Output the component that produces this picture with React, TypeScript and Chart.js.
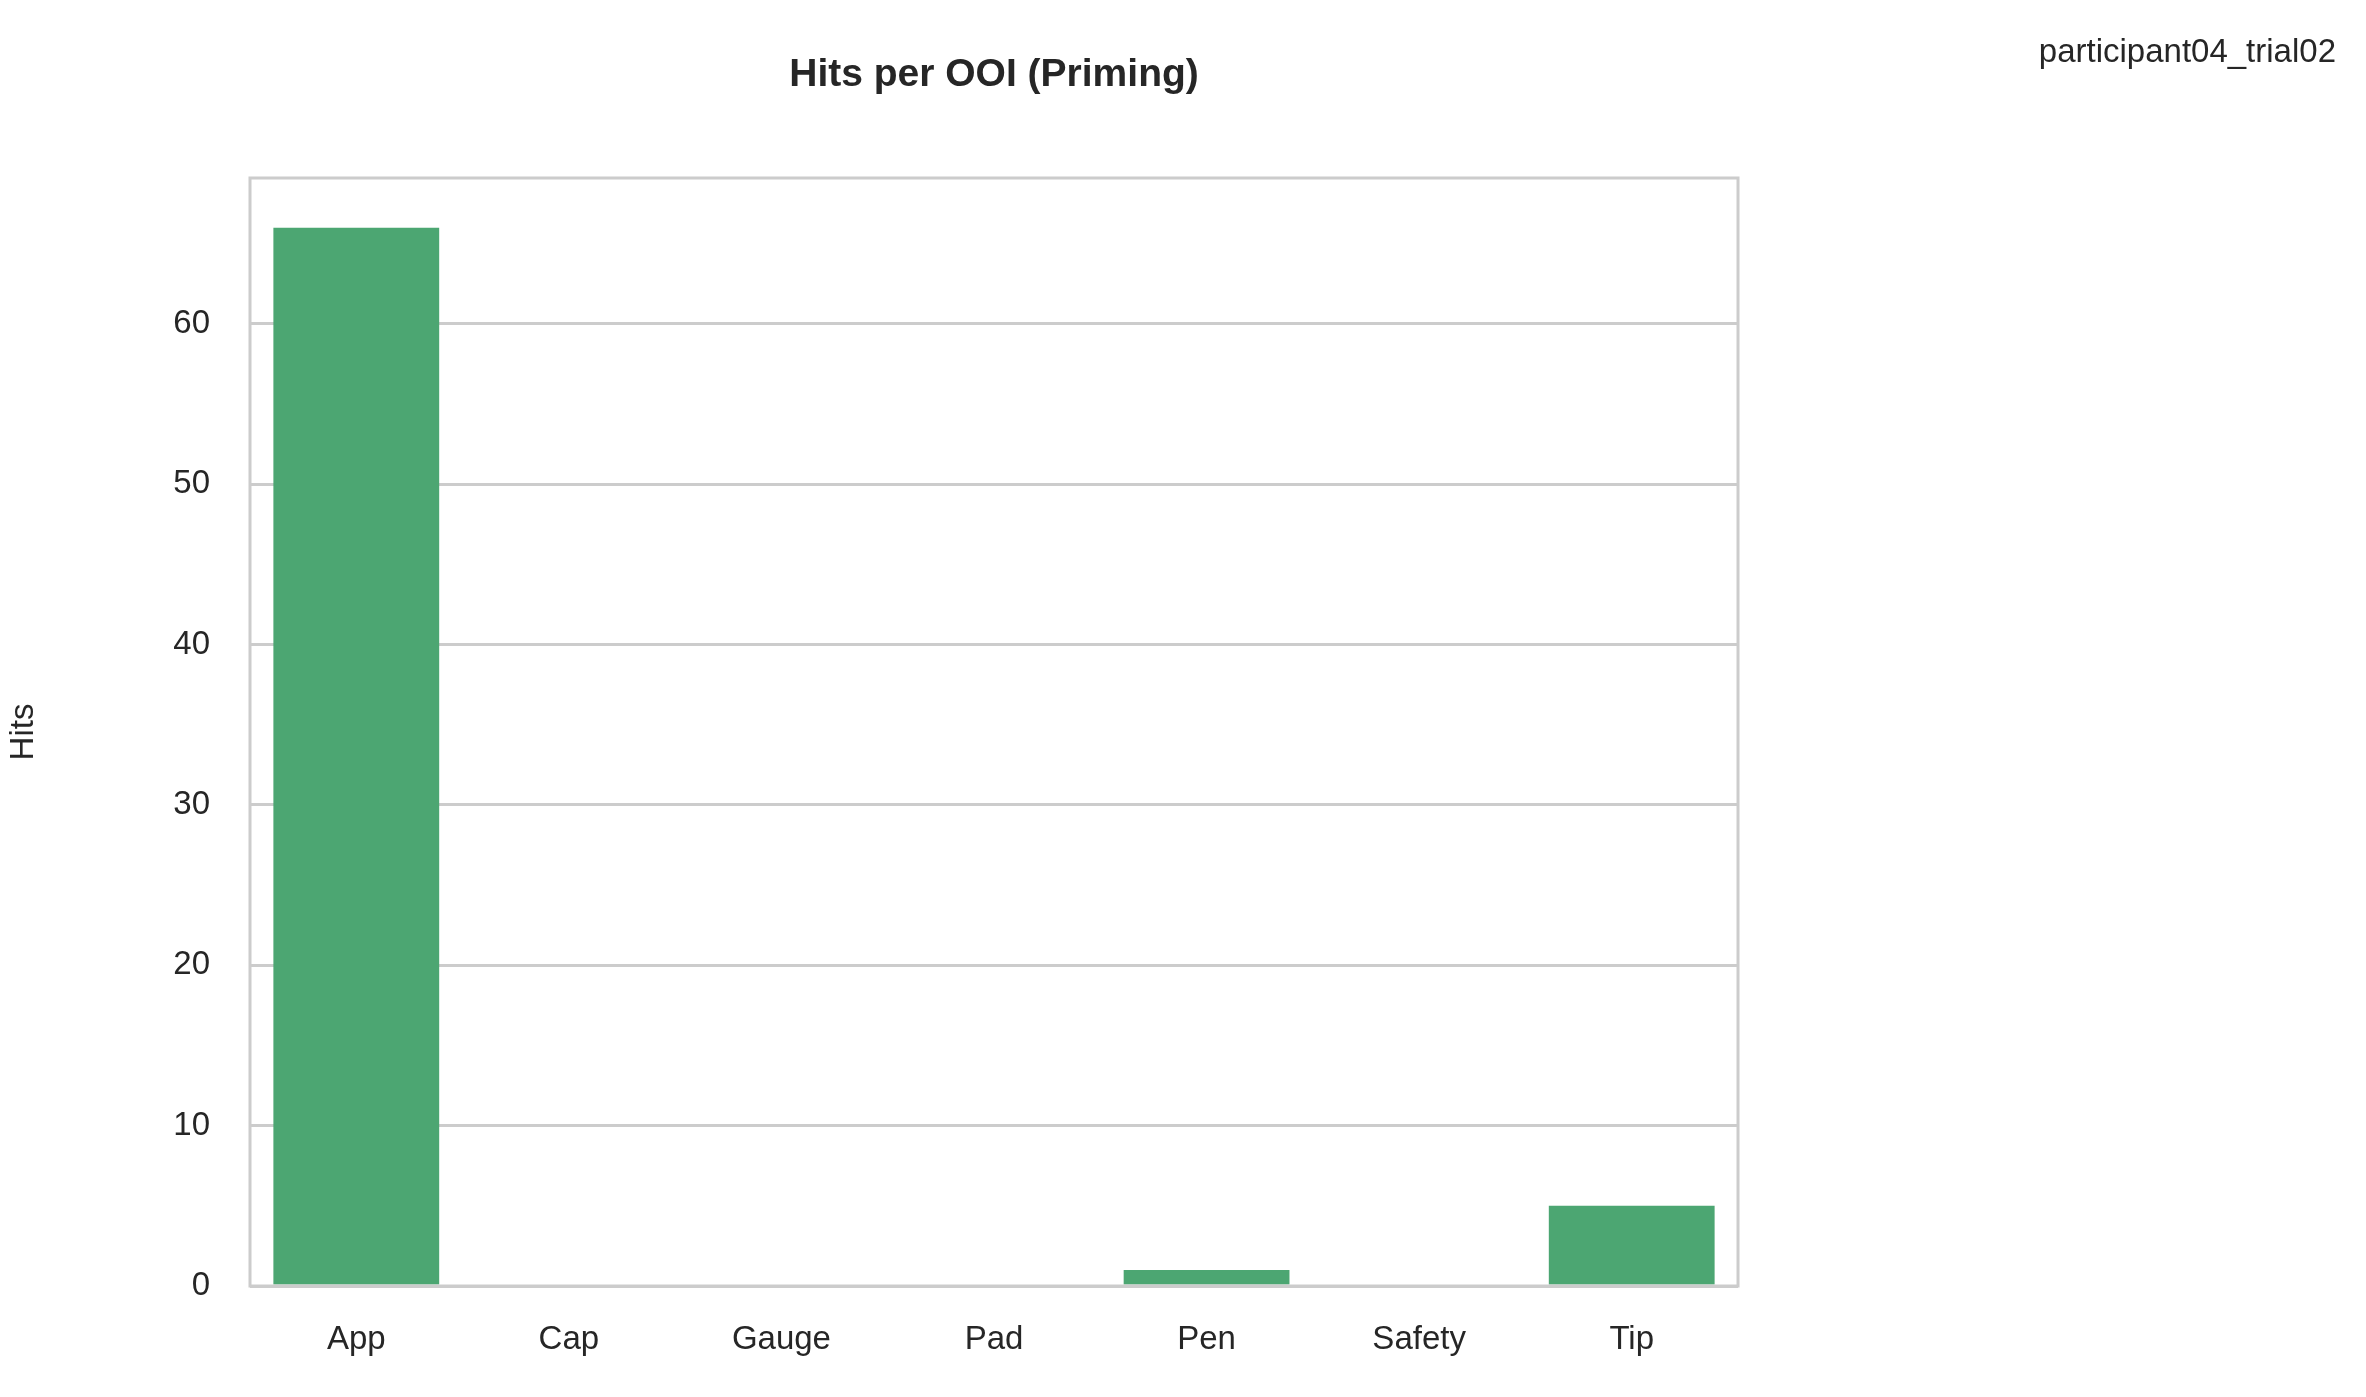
import React, { useRef, useEffect } from "react";
import Chart from "chart.js/auto";

const categories = ["App", "Cap", "Gauge", "Pad", "Pen", "Safety", "Tip"];
const hits = [66, 0, 0, 0, 1, 0, 5];
const yMax = 69.1;
const chartTitle = "Hits per OOI (Priming)";
const sideLabel = "participant04_trial02";

const framePlugin = {
  id: "frame",
  afterDraw(chart: any) {
    const { ctx, chartArea } = chart;
    ctx.save();
    ctx.strokeStyle = "#cccccc";
    ctx.lineWidth = 3;
    ctx.strokeRect(chartArea.left, chartArea.top, chartArea.right - chartArea.left, chartArea.bottom - chartArea.top);
    ctx.fillStyle = "#262626";
    ctx.textBaseline = "middle";
    ctx.font = "bold 39px 'Liberation Sans', Arial, sans-serif";
    ctx.textAlign = "center";
    ctx.fillText(chartTitle, (chartArea.left + chartArea.right) / 2, 75);
    ctx.font = "33px 'Liberation Sans', Arial, sans-serif";
    ctx.textAlign = "right";
    ctx.fillText(sideLabel, 2336, 53);
    ctx.restore();
  },
};

const App: React.FC = () => {
  const chartRef = useRef<HTMLCanvasElement | null>(null);
  const chartInstance = useRef<Chart | null>(null);

  useEffect(() => {
    document.body.style.margin = "0";
    if (chartInstance.current) chartInstance.current.destroy();
    if (chartRef.current) {
      chartInstance.current = new Chart(chartRef.current, {
        type: "bar",
        data: {
          labels: categories,
          datasets: [
            {
              label: "Hits",
              data: hits,
              backgroundColor: "#4ca672",
              categoryPercentage: 1,
              barPercentage: 0.78,
            },
          ],
        },
        options: {
          responsive: false,
          animation: false,
          devicePixelRatio: 1,
          layout: { padding: { top: 178, right: 628, left: 0, bottom: 0 } },
          plugins: { legend: { display: false }, title: { display: false }, tooltip: { enabled: false } },
          scales: {
            x: {
              grid: { display: false },
              border: { display: false },
              ticks: { color: "#262626", padding: 26, font: { size: 33, family: "'Liberation Sans', Arial, sans-serif" } },
              afterFit: (s: any) => { s.height = 111; },
            },
            y: {
              min: 0,
              max: yMax,
              border: { display: false },
              grid: { color: "#cccccc", lineWidth: 3, drawTicks: false },
              ticks: { stepSize: 10, color: "#262626", padding: 40, font: { size: 33, family: "'Liberation Sans', Arial, sans-serif" } },
              afterBuildTicks: (s: any) => { s.ticks = s.ticks.filter((t: any) => t.value % 10 === 0); },
              title: { display: true, text: "Hits", color: "#262626", padding: { bottom: 50 }, font: { size: 33, family: "'Liberation Sans', Arial, sans-serif" } },
              afterFit: (s: any) => { s.width = 250; },
            },
          },
        },
        plugins: [framePlugin],
      });
    }
    return () => {
      if (chartInstance.current) chartInstance.current.destroy();
    };
  }, []);

  return <canvas ref={chartRef} width="2366" height="1397" style={{ display: "block", background: "#fff" }}></canvas>;
};

export default App;
